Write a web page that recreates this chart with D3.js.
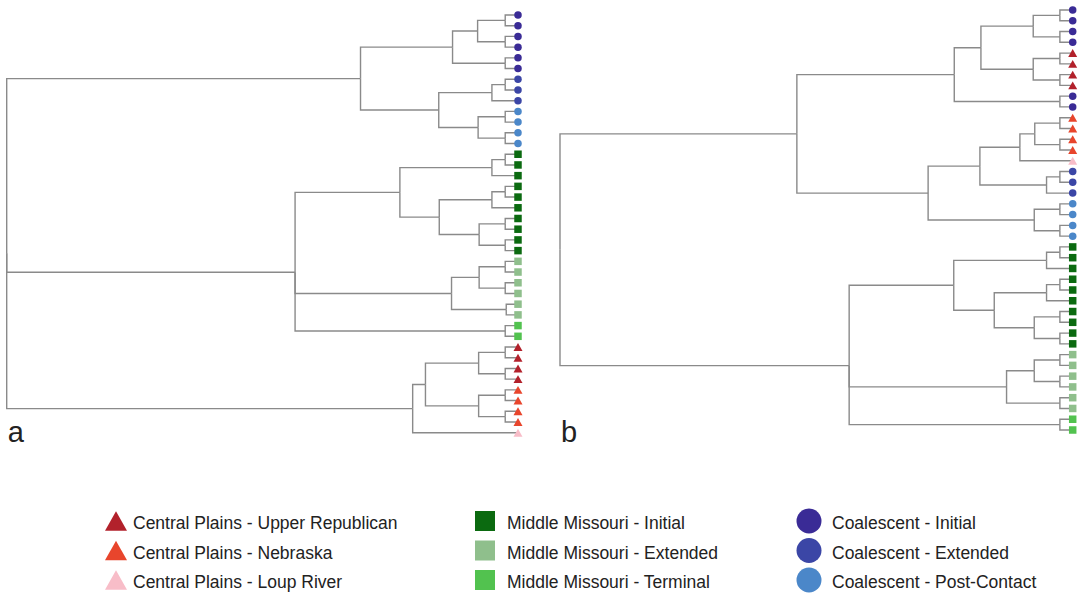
<!DOCTYPE html>
<html>
<head>
<meta charset="utf-8">
<script src="https://cdn.jsdelivr.net/npm/d3@7"></script>
<style>
  body { margin: 0; background: #fff; }
  text { font-family: "Liberation Sans", Arial, sans-serif; fill: #222; }
</style>
</head>
<body>
<div id="chart"></div>
<script>
// node = [height, child, child, ...], leaf = group code
var treeA = [100,
  [30.8,
    [12.8, [7.9, [2.5, "CI", "CI"], [2.5, "CI", "CI"]], [2.5, "CI", "CI"]],
    [15.5, [5.1, [2.5, "CE", "CE"], "CE"], [7.8, [2.5, "CP", "CP"], [2.5, "CP", "CP"]]]],
  [43.6,
    [23.1, [5.1, [2.5, "MI", "MI"], "MI"],
      [15.4, [5.1, [2.5, "MI", "MI"], "MI"], [7.6, [2.5, "MI", "MI"], [2.5, "MI", "MI"]]]],
    [13.0, [7.6, [2.5, "ME", "ME"], [2.5, "ME", "ME"]], [2.3, "ME", "ME"]],
    [2.5, "MT", "MT"]],
  [20.6,
    [18.1, [7.7, [2.5, "UR", "UR"], [2.5, "UR", "UR"]], [7.7, [2.5, "NE", "NE"], [2.5, "NE", "NE"]]],
    "LR"]
];

var treeB = [100,
  [53.8,
    [23.1,
      [17.9, [7.7, [2.5, "CI", "CI"], [2.5, "CI", "CI"]], [7.7, [2.5, "UR", "UR"], [2.5, "UR", "UR"]]],
      [2.5, "CI", "CI"]],
    [28.2,
      [18.1, [10.3, [7.4, [2.5, "NE", "NE"], [2.5, "NE", "NE"]], "LR"], [5.1, [2.5, "CE", "CE"], "CE"]],
      [7.5, [2.5, "CP", "CP"], [2.5, "CP", "CP"]]]],
  [43.6,
    [23.2, [5.1, [2.5, "MI", "MI"], "MI"],
      [15.3, [5.1, [2.5, "MI", "MI"], "MI"], [7.5, [2.5, "MI", "MI"], [2.5, "MI", "MI"]]]],
    [12.9, [7.5, [2.5, "ME", "ME"], [2.5, "ME", "ME"]], [2.5, "ME", "ME"]],
    [2.5, "MT", "MT"]]
];

var groupCodes = ["UR", "NE", "LR", "MI", "ME", "MT", "CI", "CE", "CP"];
var groupNames = ["Central Plains - Upper Republican", "Central Plains - Nebraska", "Central Plains - Loup River",
  "Middle Missouri - Initial", "Middle Missouri - Extended", "Middle Missouri - Terminal",
  "Coalescent - Initial", "Coalescent - Extended", "Coalescent - Post-Contact"];
var groupColors = ["#b2212b", "#e8452c", "#f8bdc8", "#0b6a10", "#8fbf8c", "#52c24f", "#3a2b96", "#3b46a6", "#4b87c9"];
var groupShapes = ["tri", "tri", "tri", "sq", "sq", "sq", "ci", "ci", "ci"];

var width = 1080, height = 597;
var svg = d3.select("#chart").append("svg").attr("width", width).attr("height", height);

var color = d3.scaleOrdinal().domain(groupCodes).range(groupColors);
var shape = d3.scaleOrdinal().domain(groupCodes).range(groupShapes);

function markerPath(kind, s) {
  // s = full width of the marker
  if (kind == "tri") {
    var h = s * 0.88;
    return "M" + (-s / 2) + "," + (h / 2) + "L" + (s / 2) + "," + (h / 2) + "L0," + (-h / 2) + "Z";
  }
  if (kind == "sq") return d3.symbol().type(d3.symbolSquare).size(s * s)();
  return d3.symbol().type(d3.symbolCircle).size(Math.PI * s * s / 4)();
}

function drawTree(data, x0, x1, y0, y1, label) {
  var root = d3.hierarchy(data, (d) => { return Array.isArray(d) ? d.slice(1) : null; });
  d3.cluster().size([1, 1]).separation(() => 1)(root);
  var leaves = root.leaves();

  var y = d3.scaleLinear().domain([leaves[0].x, leaves[leaves.length - 1].x]).range([y0, y1]);
  var x = d3.scaleLinear().domain([100, 0]).range([x0, x1]);
  var hgt = (d) => { return Array.isArray(d.data) ? d.data[0] : 0; };

  var g = svg.append("g");
  g.selectAll("path.link").data(root.descendants().slice(1)).enter()
    .append("path")
    .attr("class", "link")
    .attr("fill", "none")
    .attr("stroke", "#8a8a8a")
    .attr("stroke-width", 1.4)
    .attr("d", (d) => {
      return "M" + x(hgt(d.parent)) + "," + y(d.parent.x) + "V" + y(d.x) + "H" + x(hgt(d));
    });

  g.selectAll("path.leaf").data(leaves).enter()
    .append("path")
    .attr("class", "leaf")
    .attr("transform", (d) => { return "translate(" + x(0) + "," + y(d.x) + ")"; })
    .attr("d", (d) => {
      var k = shape(d.data);
      return markerPath(k, k == "tri" ? 9 : 7.5);
    })
    .attr("fill", (d) => { return color(d.data); });

  svg.append("text").attr("x", x0 + 1).attr("y", 442).attr("font-size", "29px").text(label);
}

drawTree(treeA, 6.7, 518, 15, 432.7, "a");
drawTree(treeB, 560, 1072.7, 10, 430, "b");

// legend
var legX = [116, 485, 809];
var legRows = [521, 550.5, 580];
groupCodes.forEach((c, i) => {
  var col = Math.floor(i / 3), row = i % 3;
  var item = svg.append("g").attr("transform", "translate(" + legX[col] + "," + legRows[row] + ")");
  var k = shape(c);
  item.append("path")
    .attr("d", markerPath(k, k == "tri" ? 22 : (k == "sq" ? 20 : 25)))
    .attr("fill", color(c));
  item.append("text")
    .attr("x", k == "tri" ? 17 : (k == "sq" ? 22 : 23))
    .attr("y", 8)
    .attr("font-size", "17.5px")
    .text(groupNames[i]);
});
</script>
</body>
</html>
